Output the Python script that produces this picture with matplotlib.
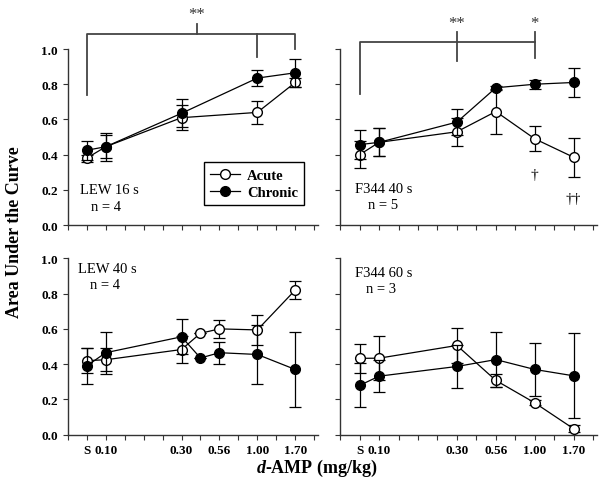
import matplotlib.pyplot as plt
from matplotlib.ticker import MultipleLocator
from matplotlib.lines import Line2D

plt.rcParams['font.family'] = 'Liberation Serif'
plt.rcParams['mathtext.fontset'] = 'custom'
plt.rcParams['mathtext.it'] = 'Liberation Serif:italic:bold'

# dose axis (positions on an evenly ticked scale)
dose_labels = ['S', '0.10', '0.30', '0.56', '1.00', '1.70']
dose_pos = [0, 1, 5, 7, 9, 11]

# LEW 16 s
lew16_x = [0, 1, 5, 9, 11]
lew16_acute = [0.38, 0.445, 0.61, 0.64, 0.81]
lew16_acute_err = [0.02, 0.065, 0.07, 0.065, 0.025]
lew16_chronic = [0.425, 0.445, 0.635, 0.835, 0.865]
lew16_chronic_err = [0.055, 0.08, 0.08, 0.047, 0.08]

# F344 40 s
f40_x = [0, 1, 5, 7, 9, 11]
f40_acute = [0.40, 0.47, 0.53, 0.645, 0.49, 0.385]
f40_acute_err = [0.076, 0.08, 0.08, 0.13, 0.07, 0.11]
f40_chronic = [0.457, 0.47, 0.585, 0.78, 0.80, 0.81]
f40_chronic_err = [0.082, 0.08, 0.075, 0.01, 0.025, 0.085]

# LEW 40 s
lew40_x = [0, 1, 5, 6, 7, 9, 11]
lew40_acute = [0.42, 0.425, 0.483, 0.575, 0.60, 0.594, 0.82]
lew40_acute_err = [0.07, 0.065, 0.075, 0, 0.05, 0.085, 0.05]
lew40_chronic = [0.39, 0.465, 0.555, 0.435, 0.465, 0.455, 0.37]
lew40_chronic_err = [0.1, 0.12, 0.1, 0, 0.063, 0.165, 0.21]

# F344 60 s
f60_x = [0, 1, 5, 7, 9, 11]
f60_acute = [0.433, 0.434, 0.506, 0.308, 0.181, 0.034]
f60_acute_err = [0.084, 0.126, 0.1, 0.035, 0.015, 0.02]
f60_chronic = [0.28, 0.332, 0.387, 0.426, 0.37, 0.334]
f60_chronic_err = [0.125, 0.09, 0.123, 0.155, 0.15, 0.24]

fig = plt.figure(figsize=(6, 4.81), dpi=100)
ax_tl = fig.add_axes([0.113, 0.530, 0.417, 0.366])
ax_tr = fig.add_axes([0.567, 0.530, 0.428, 0.366])
ax_bl = fig.add_axes([0.113, 0.094, 0.417, 0.367])
ax_br = fig.add_axes([0.567, 0.094, 0.428, 0.367])

panels = [
    (ax_tl, lew16_x, lew16_acute, lew16_acute_err, lew16_chronic, lew16_chronic_err),
    (ax_tr, f40_x, f40_acute, f40_acute_err, f40_chronic, f40_chronic_err),
    (ax_bl, lew40_x, lew40_acute, lew40_acute_err, lew40_chronic, lew40_chronic_err),
    (ax_br, f60_x, f60_acute, f60_acute_err, f60_chronic, f60_chronic_err),
]

for ax, x, ac, ace, ch, che in panels:
    ax.errorbar(x, ac, yerr=ace, fmt='-o', color='black', mfc='white', mec='black',
                ms=7, lw=0.9, elinewidth=0.9, capsize=4.5, capthick=0.9, zorder=3)
    ax.errorbar(x, ch, yerr=che, fmt='-o', color='black', mfc='black', mec='black',
                ms=7, lw=0.9, elinewidth=0.9, capsize=4.5, capthick=0.9, zorder=4)
    ax.set_xlim(-1, 12.2)
    ax.set_ylim(0, 1.0)
    for s in ['top', 'right']:
        ax.spines[s].set_visible(False)
    for s in ['left', 'bottom']:
        ax.spines[s].set_color('#333333')
        ax.spines[s].set_linewidth(1.0)
    ax.set_yticks([0, 0.2, 0.4, 0.6, 0.8, 1.0])
    ax.set_xticks(dose_pos)
    ax.xaxis.set_minor_locator(MultipleLocator(1))
    ax.tick_params(axis='both', which='both', direction='out', length=3.5, width=0.8, color='#333333')
    ax.tick_params(axis='both', labelsize=9.5)
    ax.tick_params(axis='x', pad=3)

for ax in [ax_tl, ax_bl]:
    ax.set_yticklabels(['0.0', '0.2', '0.4', '0.6', '0.8', '1.0'], fontweight='bold')
for ax in [ax_tr, ax_br]:
    ax.set_yticklabels([])
for ax in [ax_tl, ax_tr]:
    ax.set_xticklabels([])
for ax in [ax_bl, ax_br]:
    ax.set_xticklabels(dose_labels, fontweight='bold')

# panel labels
ax_tl.text(-0.35, 0.18, 'LEW 16 s', fontsize=10.5)
ax_tl.text(1.0, 0.087, 'n = 4', fontsize=10.5, ha='center')
ax_tr.text(-0.25, 0.187, 'F344 40 s', fontsize=10.5)
ax_tr.text(1.2, 0.095, 'n = 5', fontsize=10.5, ha='center')
ax_bl.text(-0.45, 0.92, 'LEW 40 s', fontsize=10.5)
ax_bl.text(0.95, 0.83, 'n = 4', fontsize=10.5, ha='center')
ax_br.text(-0.25, 0.90, 'F344 60 s', fontsize=10.5)
ax_br.text(1.1, 0.81, 'n = 3', fontsize=10.5, ha='center')

# legend
handles = [
    Line2D([], [], color='black', lw=0.9, marker='o', ms=7, mfc='white', mec='black'),
    Line2D([], [], color='black', lw=0.9, marker='o', ms=7, mfc='black', mec='black'),
]
leg = ax_tl.legend(handles, ['Acute', 'Chronic'], loc='lower right', bbox_to_anchor=(0.975, 0.07),
                   fancybox=False, edgecolor='black', framealpha=1,
                   prop={'weight': 'bold', 'size': 10.5},
                   handlelength=2.0, borderpad=0.45, labelspacing=0.25, handletextpad=0.5)
leg.get_frame().set_linewidth(1.0)

# significance brackets
bk = dict(color='#444444', lw=1.3, clip_on=False)
ax_tl.plot([0, 0, 11, 11], [0.74, 1.085, 1.085, 1.0], **bk)
ax_tl.plot([9, 9], [1.085, 0.955], **bk)
ax_tl.plot([5.8, 5.8], [1.085, 1.142], **bk)
ax_tl.text(5.8, 1.2, '**', ha='center', va='center', fontsize=12, color='#333333')

ax_tr.plot([0, 0, 9], [0.747, 1.038, 1.038], **bk)
ax_tr.plot([5, 5], [0.934, 1.095], **bk)
ax_tr.plot([9, 9], [0.95, 1.095], **bk)
ax_tr.text(5, 1.15, '**', ha='center', va='center', fontsize=12, color='#333333')
ax_tr.text(9, 1.15, '*', ha='center', va='center', fontsize=12, color='#333333')
ax_tr.text(9, 0.29, '\u2020', ha='center', va='center', fontsize=11)
ax_tr.text(11, 0.15, '\u2020\u2020', ha='center', va='center', fontsize=11)

fig.text(0.025, 0.518, 'Area Under the Curve', rotation=90, ha='center', va='center',
         fontsize=13, fontweight='bold')
fig.text(0.528, 0.027, r'$\mathit{d}$-AMP (mg/kg)', ha='center', va='center',
         fontsize=13, fontweight='bold')

fig.savefig('out.png', dpi=100)
